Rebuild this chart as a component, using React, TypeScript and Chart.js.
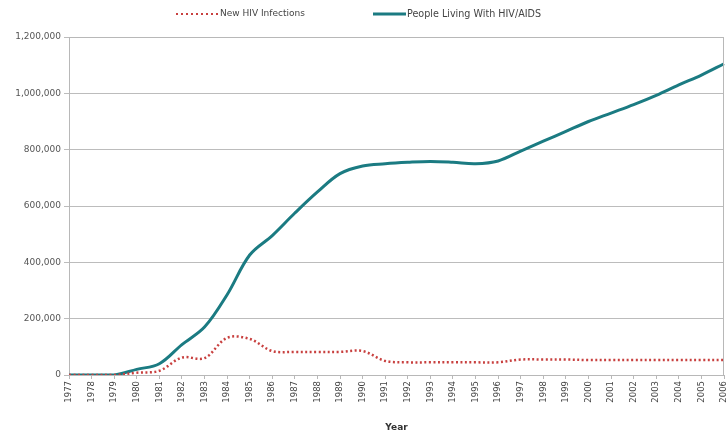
import React, { useEffect, useRef } from "react";
import { Chart, registerables } from "chart.js";

Chart.register(...registerables);

const years: string[] = [
  "1977", "1978", "1979", "1980", "1981", "1982", "1983", "1984", "1985", "1986",
  "1987", "1988", "1989", "1990", "1991", "1992", "1993", "1994", "1995", "1996",
  "1997", "1998", "1999", "2000", "2001", "2002", "2003", "2004", "2005", "2006",
];

const newInfections: number[] = [
  0, 0, 0, 8000, 15000, 62000, 60000, 132000, 128000, 85000,
  82000, 82000, 82000, 85000, 50000, 45000, 45000, 45000, 45000, 45000,
  55000, 55000, 55000, 53000, 53000, 53000, 53000, 53000, 53000, 53000,
];

const peopleLiving: number[] = [
  0, 0, 0, 20000, 40000, 108000, 170000, 285000, 426000, 495000,
  575000, 650000, 715000, 742000, 750000, 755000, 758000, 755000, 750000, 760000,
  795000, 830000, 865000, 900000, 930000, 960000, 993000, 1030000, 1065000, 1105000,
];

const seriesNames: string[] = ["New HIV Infections", "People Living With HIV/AIDS"];
const yTicks: number[] = [0, 200000, 400000, 600000, 800000, 1000000, 1200000];

const RED = "#c8403f";
const TEAL = "#1b7b82";
const FONT = "'DejaVu Sans', Verdana, sans-serif";

const plotBorder = {
  id: "plotBorder",
  afterDraw(chart: any) {
    const { ctx, chartArea } = chart;
    ctx.save();
    ctx.strokeStyle = "#b8b8b8";
    ctx.lineWidth = 1;
    ctx.beginPath();
    ctx.moveTo(chartArea.left, chartArea.top + 0.5);
    ctx.lineTo(chartArea.right - 0.5, chartArea.top + 0.5);
    ctx.lineTo(chartArea.right - 0.5, chartArea.bottom);
    ctx.stroke();
    ctx.restore();
  },
};

const customLegend = {
  id: "customLegend",
  afterDraw(chart: any) {
    const { ctx } = chart;
    ctx.save();
    const y = 14;
    ctx.strokeStyle = RED;
    ctx.lineWidth = 2;
    ctx.setLineDash([2, 3]);
    ctx.beginPath();
    ctx.moveTo(176, y);
    ctx.lineTo(219, y);
    ctx.stroke();
    ctx.setLineDash([]);
    ctx.fillStyle = "#444";
    ctx.textBaseline = "middle";
    ctx.font = `9px ${FONT}`;
    ctx.fillText(seriesNames[0], 220, y);
    ctx.strokeStyle = TEAL;
    ctx.lineWidth = 3;
    ctx.beginPath();
    ctx.moveTo(373, y);
    ctx.lineTo(406, y);
    ctx.stroke();
    ctx.font = `9.6px ${FONT}`;
    ctx.fillText(seriesNames[1], 407, y);
    ctx.restore();
  },
};

export default function App() {
  const ref = useRef<HTMLCanvasElement | null>(null);

  useEffect(() => {
    document.body.style.margin = "0";
    if (!ref.current) return;
    const chart = new Chart(ref.current, {
      type: "line",
      data: {
        labels: years,
        datasets: [
          {
            label: seriesNames[0],
            data: newInfections,
            borderColor: RED,
            backgroundColor: RED,
            borderWidth: 2.5,
            borderDash: [2, 2.5],
            pointRadius: 0,
            tension: 0.35,
            fill: false,
          },
          {
            label: seriesNames[1],
            data: peopleLiving,
            borderColor: TEAL,
            backgroundColor: TEAL,
            borderWidth: 3,
            pointRadius: 0,
            tension: 0.35,
            fill: false,
          },
        ],
      },
      options: {
        responsive: false,
        animation: false,
        devicePixelRatio: 1,
        layout: { padding: { top: 37, right: 3, left: 0, bottom: 0 } },
        plugins: {
          legend: { display: false },
          tooltip: { enabled: false },
        },
        scales: {
          x: {
            offset: false,
            grid: {
              drawOnChartArea: false,
              drawTicks: true,
              tickLength: 4,
              color: "#b8b8b8",
            },
            border: { color: "#b8b8b8" },
            ticks: {
              autoSkip: false,
              minRotation: 90,
              maxRotation: 90,
              color: "#444",
              font: { family: FONT, size: 8.5 },
              padding: 2,
            },
            title: {
              display: true,
              text: "Year",
              color: "#333",
              font: { family: FONT, size: 9, weight: "bold" },
              padding: { top: 4, bottom: 3 },
            },
            afterFit(scale: any) {
              scale.height = 61;
              scale.paddingRight = 0;
              scale.paddingLeft = 0;
            },
          },
          y: {
            min: 0,
            max: 1200000,
            afterBuildTicks(scale: any) {
              scale.ticks = yTicks.map((v) => ({ value: v }));
            },
            grid: {
              color: "#bcbcbc",
              tickLength: 5,
            },
            border: { color: "#b8b8b8" },
            ticks: {
              color: "#555",
              font: { family: FONT, size: 9 },
              padding: 3,
              callback: (v: any) => Number(v).toLocaleString("en-US"),
            },
            afterFit(scale: any) {
              scale.width = 69;
              scale.paddingTop = 0;
              scale.paddingBottom = 0;
            },
          },
        },
      },
      plugins: [plotBorder, customLegend],
    });
    return () => chart.destroy();
  }, []);

  return (
    <div style={{ width: 727, height: 436, background: "#fff" }}>
      <canvas ref={ref} width={727} height={436} style={{ display: "block" }} />
    </div>
  );
}
